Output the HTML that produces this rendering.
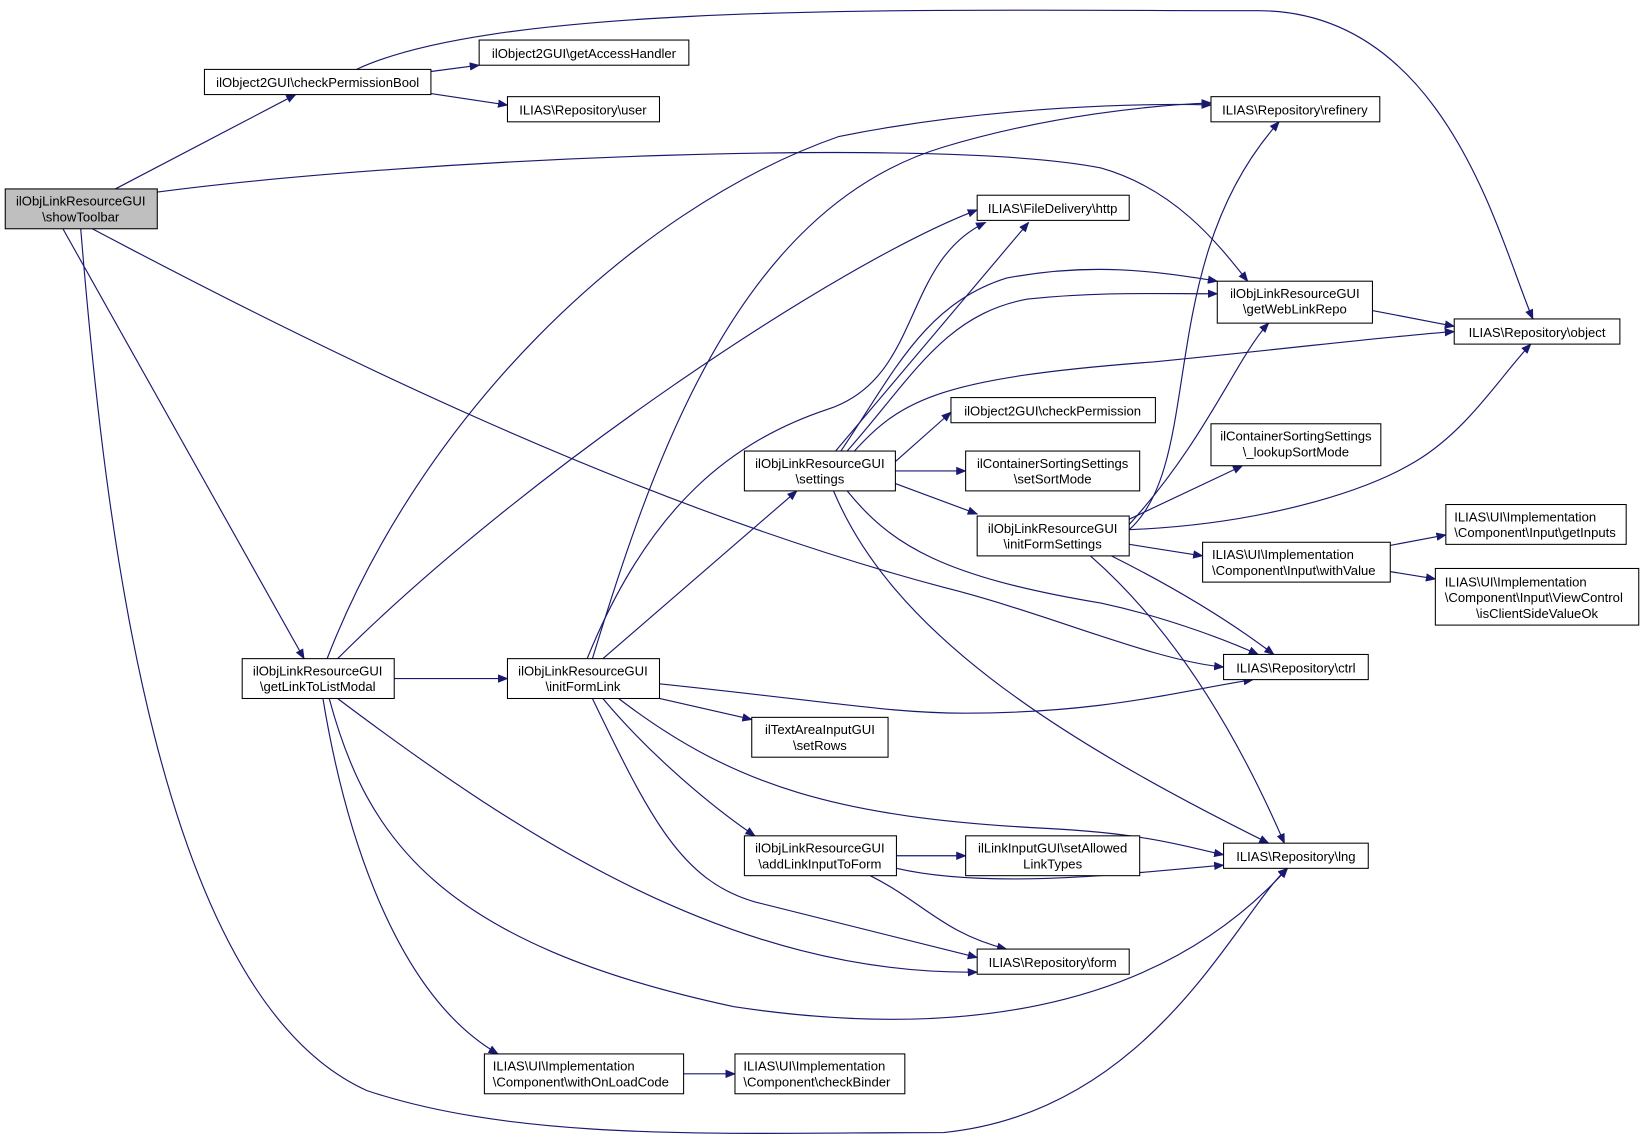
<!DOCTYPE html>
<html><head><meta charset="utf-8"><style>
html,body{margin:0;padding:0;background:#fff}
svg{display:block}
text{font-family:"Liberation Sans",sans-serif;font-size:12.5px;fill:#000}
</style></head><body>
<svg width="1644" height="1138" viewBox="0 0 1568 1085" xmlns="http://www.w3.org/2000/svg">
<defs><marker id="a" markerWidth="10" markerHeight="8" refX="9" refY="4" orient="auto" markerUnits="userSpaceOnUse"><path d="M0,0 L10,4 L0,8 z" fill="#191970"/></marker></defs>
<g fill="none" stroke="#191970" stroke-width="1.1" marker-end="url(#a)">
<path d="M110,180 L282,90"/>
<path d="M150,183 C400,150 900,130 1050,160 C1120,180 1160,230 1190,268"/>
<path d="M88,218 C300,330 600,480 900,560 C1000,585 1100,630 1167,636"/>
<path d="M60,218 L290,628"/>
<path d="M77,218 C100,500 150,950 350,1040 C500,1090 700,1080 900,1080 C1100,1060 1180,870 1228,828"/>
<path d="M411,68 L457,62"/>
<path d="M411,89 L484,100"/>
<path d="M340,66 C480,0 900,10 1200,10 C1380,10 1430,230 1462,304"/>
<path d="M312,628 C400,400 600,200 800,130 C950,100 1100,98 1155,100"/>
<path d="M322,628 C500,450 800,250 932,200"/>
<path d="M376,647 L484,647"/>
<path d="M322,666 C500,800 700,930 932,927"/>
<path d="M314,666 C350,800 420,900 700,960 C900,990 1100,970 1228,828"/>
<path d="M308,666 C330,800 380,950 475,1005"/>
<path d="M565,628 C620,450 700,200 900,140 C1000,110 1100,100 1155,98"/>
<path d="M560,628 C620,480 700,420 790,390 C880,360 860,250 940,212"/>
<path d="M575,628 L760,468"/>
<path d="M629,652 C800,670 850,680 920,680 C1050,680 1120,660 1195,648"/>
<path d="M629,666 L717,686"/>
<path d="M575,666 C620,720 680,770 720,797"/>
<path d="M590,666 C700,750 800,780 1000,790 C1100,795 1140,810 1167,815"/>
<path d="M565,666 C620,780 650,840 720,860 C800,880 880,900 932,913"/>
<path d="M797,430 L981,212"/>
<path d="M802,430 C850,360 880,290 960,265 C1040,250 1100,258 1161,268"/>
<path d="M808,430 C870,360 900,300 980,285 C1050,278 1100,280 1161,280"/>
<path d="M815,430 C860,380 900,360 1100,345 C1250,330 1330,320 1387,316"/>
<path d="M854,440 L907,393"/>
<path d="M854,449 L921,449"/>
<path d="M854,461 L932,490"/>
<path d="M808,468 C850,520 900,550 1050,575 C1120,590 1180,615 1200,624"/>
<path d="M795,468 C850,600 1000,700 1210,804"/>
<path d="M1077,505 C1150,440 1100,250 1220,116"/>
<path d="M1077,500 C1150,420 1180,340 1210,308"/>
<path d="M1077,495 L1185,444"/>
<path d="M1077,505 C1200,500 1300,470 1350,440 C1400,410 1430,360 1460,328"/>
<path d="M1077,519 L1147,530"/>
<path d="M1060,530 C1120,560 1170,590 1215,624"/>
<path d="M1040,530 C1120,600 1180,700 1225,804"/>
<path d="M1326,520 L1379,510"/>
<path d="M1326,545 L1369,552"/>
<path d="M1309,296 L1387,311"/>
<path d="M855,816 L921,816"/>
<path d="M855,828 C950,850 1100,830 1167,825"/>
<path d="M830,835 C880,860 900,890 960,905"/>
<path d="M652,1024 L701,1024"/>
</g>
<g stroke="#000" stroke-width="1" fill="#fff">
<rect x="5" y="180" width="145" height="38" fill="#bfbfbf"/>
<rect x="195" y="66" width="216" height="24"/>
<rect x="457" y="38" width="200" height="24"/>
<rect x="484" y="92" width="145" height="24"/>
<rect x="1155" y="92" width="161" height="24"/>
<rect x="932" y="186" width="145" height="24"/>
<rect x="1161" y="268" width="148" height="40"/>
<rect x="1387" y="304" width="158" height="24"/>
<rect x="907" y="379" width="195" height="24"/>
<rect x="1155" y="404" width="162" height="40"/>
<rect x="710" y="430" width="144" height="38"/>
<rect x="921" y="430" width="166" height="38"/>
<rect x="932" y="492" width="145" height="38"/>
<rect x="1379" y="481" width="172" height="38"/>
<rect x="1147" y="517" width="179" height="38"/>
<rect x="1369" y="542" width="194" height="54"/>
<rect x="231" y="628" width="145" height="38"/>
<rect x="484" y="628" width="145" height="38"/>
<rect x="1167" y="624" width="138" height="24"/>
<rect x="717" y="684" width="130" height="38"/>
<rect x="710" y="797" width="145" height="38"/>
<rect x="921" y="797" width="166" height="38"/>
<rect x="1167" y="804" width="138" height="24"/>
<rect x="932" y="905" width="145" height="24"/>
<rect x="462" y="1005" width="190" height="38"/>
<rect x="701" y="1005" width="162" height="38"/>
</g>
<g text-anchor="middle">
<text x="77" y="196">ilObjLinkResourceGUI</text><text x="77" y="211">\showToolbar</text>
<text x="303" y="83">ilObject2GUI\checkPermissionBool</text>
<text x="557" y="55">ilObject2GUI\getAccessHandler</text>
<text x="556" y="109">ILIAS\Repository\user</text>
<text x="1235" y="109">ILIAS\Repository\refinery</text>
<text x="1004" y="203">ILIAS\FileDelivery\http</text>
<text x="1235" y="284">ilObjLinkResourceGUI</text><text x="1235" y="299">\getWebLinkRepo</text>
<text x="1466" y="321">ILIAS\Repository\object</text>
<text x="1004" y="396">ilObject2GUI\checkPermission</text>
<text x="1236" y="420">ilContainerSortingSettings</text><text x="1236" y="435">\_lookupSortMode</text>
<text x="782" y="446">ilObjLinkResourceGUI</text><text x="782" y="461">\settings</text>
<text x="1004" y="446">ilContainerSortingSettings</text><text x="1004" y="461">\setSortMode</text>
<text x="1004" y="508">ilObjLinkResourceGUI</text><text x="1004" y="523">\initFormSettings</text>
</g>
<g>
<text x="1387" y="497">ILIAS\UI\Implementation</text><text x="1387" y="512">\Component\Input\getInputs</text>
<text x="1156" y="533">ILIAS\UI\Implementation</text><text x="1156" y="548">\Component\Input\withValue</text>
<text x="1378" y="559">ILIAS\UI\Implementation</text><text x="1378" y="574">\Component\Input\ViewControl</text>
<text x="470" y="1021">ILIAS\UI\Implementation</text><text x="470" y="1036">\Component\withOnLoadCode</text>
<text x="709" y="1021">ILIAS\UI\Implementation</text><text x="709" y="1036">\Component\checkBinder</text>
</g>
<g text-anchor="middle">
<text x="1466" y="589">\isClientSideValueOk</text>
<text x="303" y="644">ilObjLinkResourceGUI</text><text x="303" y="659">\getLinkToListModal</text>
<text x="556" y="644">ilObjLinkResourceGUI</text><text x="556" y="659">\initFormLink</text>
<text x="1236" y="641">ILIAS\Repository\ctrl</text>
<text x="782" y="700">ilTextAreaInputGUI</text><text x="782" y="715">\setRows</text>
<text x="782" y="813">ilObjLinkResourceGUI</text><text x="782" y="828">\addLinkInputToForm</text>
<text x="1004" y="813">ilLinkInputGUI\setAllowed</text><text x="1004" y="828">LinkTypes</text>
<text x="1236" y="821">ILIAS\Repository\lng</text>
<text x="1004" y="922">ILIAS\Repository\form</text>
</g>
</svg>
</body></html>
